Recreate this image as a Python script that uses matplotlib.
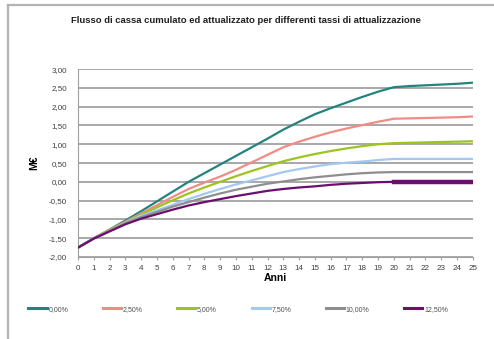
import numpy as np
import matplotlib
matplotlib.use('Agg')
import matplotlib.pyplot as plt
from matplotlib.lines import Line2D

plt.rcParams['font.family'] = ['Liberation Sans', 'DejaVu Sans']

# dati
anni = list(range(0, 26))
tassi = ['0,00%', '2,50%', '5,00%', '7,50%', '10,00%', '12,50%']
colori = ['#24837E', '#F28A85', '#9DC41E', '#A3C8F2', '#8E8E8E', '#6B0F6F']

tasso_0 = [-1.75, -1.50, -1.27, -1.03, -0.78, -0.52, -0.26, 0.00, 0.23, 0.46,
           0.69, 0.92, 1.15, 1.39, 1.60, 1.80, 1.96, 2.11, 2.26, 2.40,
           2.52, 2.55, 2.57, 2.59, 2.61, 2.64]
tasso_25 = [-1.75, -1.50, -1.28, -1.06, -0.84, -0.62, -0.40, -0.19, -0.02, 0.14,
            0.32, 0.52, 0.72, 0.92, 1.07, 1.20, 1.32, 1.42, 1.51, 1.60,
            1.68, 1.69, 1.70, 1.71, 1.72, 1.74]
tasso_5 = [-1.75, -1.51, -1.29, -1.08, -0.87, -0.68, -0.49, -0.31, -0.15, 0.00,
           0.15, 0.29, 0.42, 0.55, 0.65, 0.74, 0.82, 0.89, 0.95, 1.00,
           1.03, 1.04, 1.05, 1.06, 1.07, 1.08]
tasso_75 = [-1.75, -1.51, -1.30, -1.09, -0.90, -0.76, -0.61, -0.46, -0.32, -0.19,
            -0.07, 0.04, 0.15, 0.26, 0.34, 0.41, 0.47, 0.51, 0.54, 0.58,
            0.61, 0.61, 0.61, 0.61, 0.61, 0.61]
tasso_10 = [-1.75, -1.51, -1.30, -1.10, -0.94, -0.80, -0.66, -0.54, -0.42, -0.31,
            -0.21, -0.13, -0.05, 0.01, 0.07, 0.12, 0.16, 0.20, 0.23, 0.25,
            0.26, 0.26, 0.26, 0.26, 0.26, 0.26]
tasso_125 = [-1.75, -1.51, -1.32, -1.13, -0.98, -0.86, -0.74, -0.63, -0.54, -0.46,
             -0.38, -0.31, -0.24, -0.19, -0.15, -0.12, -0.08, -0.05, -0.03, -0.01,
             0.00, 0.00, 0.00, 0.00, 0.00, 0.00]

serie = [tasso_0, tasso_25, tasso_5, tasso_75, tasso_10, tasso_125]

fig = plt.figure(figsize=(4.94, 3.39), dpi=100)
ax = fig.add_axes([0.158, 0.242, 0.799, 0.554])

for valori, colore in zip(serie, colori):
    ax.plot(anni, valori, color=colore, lw=1.6, zorder=3)
# tratto finale più spesso della serie 12,50%
ax.plot(anni[20:], tasso_125[20:], color=colori[5], lw=3.2, zorder=3)

ax.set_xlim(0, 25)
ax.set_ylim(-2, 3)
ax.set_xticks(anni)
ax.set_yticks(np.arange(-2, 3.01, 0.5))
ax.set_yticklabels([f'{v:.2f}'.replace('.', ',') for v in np.arange(-2, 3.01, 0.5)])
ax.yaxis.grid(True, color='#A8A8A8', lw=1.4)
ax.set_axisbelow(True)
for s in ['top', 'right']:
    ax.spines[s].set_visible(False)
ax.spines['left'].set_color('#A0A0A0')
ax.spines['bottom'].set_color('#A0A0A0')
ax.tick_params(axis='both', labelsize=5.8, colors='#A0A0A0', labelcolor='#404040', length=2)
ax.tick_params(axis='y', length=0, pad=8)

ax.set_xlabel('Anni', fontsize=7.5, fontweight='bold', labelpad=1)
ax.set_ylabel('M€', fontsize=7.5, fontweight='bold', labelpad=7)

fig.text(0.497, 0.94, 'Flusso di cassa cumulato ed attualizzato per differenti tassi di attualizzazione',
         ha='center', va='center', fontsize=6.8, fontweight='bold', color='#202020')

handles = [Line2D([0], [0], color=c, lw=2.2) for c in colori]
fig.legend(handles, tassi, loc='center left', bbox_to_anchor=(0.045, 0.088), ncol=6,
           frameon=False, fontsize=5, handlelength=2.6, handletextpad=0.25,
           columnspacing=5.0, labelcolor='#505050')

# cornice esterna
fig.add_artist(Line2D([0.017, 0.017], [0, 0.985], color='#B4B4B4', lw=1.6))
fig.add_artist(Line2D([0.017, 1], [0.985, 0.985], color='#B4B4B4', lw=1.6))

fig.savefig('out.png', dpi=100)
